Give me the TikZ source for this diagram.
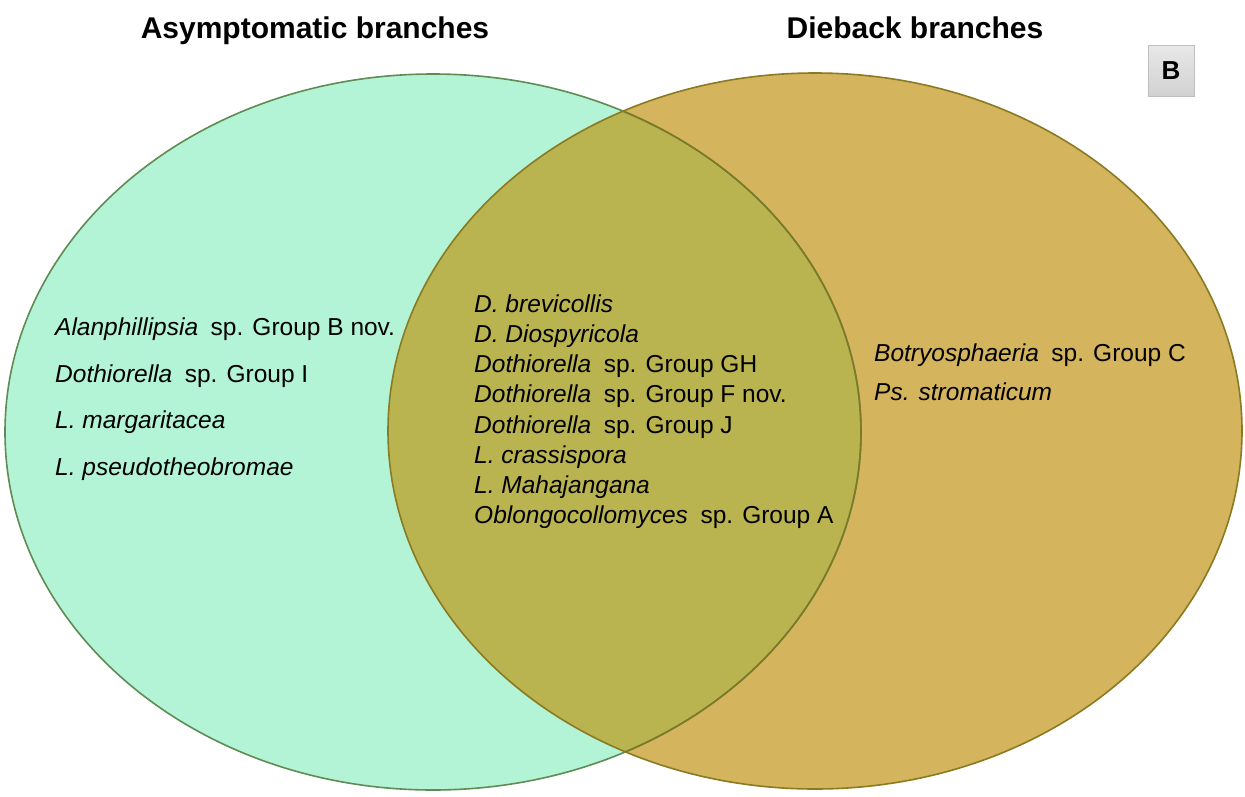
\documentclass[tikz,border=0pt]{standalone}
\usepackage{fontspec}
\setmainfont{Liberation Sans}
% genus name in italics, followed by the wider gap before "sp."
\newcommand\genusname[1]{\textit{#1}\hspace{12.5pt}}
\begin{document}
\definecolor{asymfill}{HTML}{B4F4D6}
\definecolor{asymedge}{HTML}{5F8B55}
\definecolor{diefill}{HTML}{D4B45C}
\definecolor{dieedge}{HTML}{8A7A22}
\definecolor{bothfill}{HTML}{BAB450}
\definecolor{bothedge}{HTML}{7E7A24}
\begin{tikzpicture}[x=1pt,y=-1pt,
  title/.style={font=\fontsize{30}{34}\selectfont\bfseries, anchor=base},
  species/.style={font=\fontsize{24.5}{28}\selectfont, anchor=base west, inner sep=0pt},
  panel/.style={draw=gray!50, top color=gray!18, bottom color=gray!36,
    minimum width=46pt, minimum height=51pt, inner sep=0pt,
    font=\fontsize{26}{30}\selectfont\bfseries}]
\useasboundingbox (0,0) rectangle (1245,796);
% set fills
\fill[asymfill] (433,432) ellipse [x radius=428pt, y radius=358pt];
\fill[diefill] (815,431) ellipse [x radius=427pt, y radius=358pt];
\begin{scope}
  \clip (433,432) ellipse [x radius=428pt, y radius=358pt];
  \fill[bothfill] (815,431) ellipse [x radius=427pt, y radius=358pt];
\end{scope}
% set outlines
\draw[asymedge, line width=1.6pt] (433,432) ellipse [x radius=428pt, y radius=358pt];
\begin{scope}
  \clip (815,431) ellipse [x radius=427pt, y radius=358pt];
  \draw[bothedge, line width=1.6pt] (433,432) ellipse [x radius=428pt, y radius=358pt];
\end{scope}
\draw[dieedge, line width=1.6pt] (815,431) ellipse [x radius=427pt, y radius=358pt];
% headings
\node[title] (tA) at (315,38) {Asymptomatic branches};
\node[title] (tD) at (915,38) {Dieback branches};
\node[panel] (pB) at (1171,70.5) {B};
% asymptomatic only
\node[species] (a1) at (55,335) {\genusname{Alanphillipsia}sp. Group B nov.};
\node[species] (a2) at (55,382) {\genusname{Dothiorella}sp. Group I};
\node[species] (a3) at (55,428) {\textit{L. margaritacea}};
\node[species] (a4) at (55,475) {\textit{L. pseudotheobromae}};
% shared
\node[species] (b1) at (474,312) {\textit{D. brevicollis}};
\node[species] (b2) at (474,342) {\textit{D. Diospyricola}};
\node[species] (b3) at (474,372) {\genusname{Dothiorella}sp. Group GH};
\node[species] (b4) at (474,402) {\genusname{Dothiorella}sp. Group F nov.};
\node[species] (b5) at (474,433) {\genusname{Dothiorella}sp. Group J};
\node[species] (b6) at (474,463) {\textit{L. crassispora}};
\node[species] (b7) at (474,493) {\textit{L. Mahajangana}};
\node[species] (b8) at (474,523) {\genusname{Oblongocollomyces}sp. Group A};
% dieback only
\node[species] (c1) at (874,361) {\genusname{Botryosphaeria}sp. Group C};
\node[species] (c2) at (874,400) {\textit{Ps. stromaticum}};
\end{tikzpicture}
\end{document}
